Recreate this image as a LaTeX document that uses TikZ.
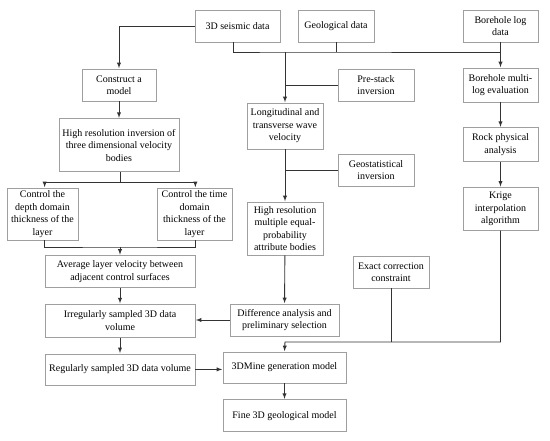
\documentclass[tikz,border=0pt]{standalone}
\usepackage{fontspec}
\setmainfont{Liberation Serif}
\usepackage{tikz}
\usetikzlibrary{arrows, positioning, calc}

\begin{document}
\begin{tikzpicture}[
                x=1pt, y=1pt,
                node distance = 16pt,
                box/.style = {rectangle, draw=gray!75, line width=0.7pt, align=center,
                              minimum height=32pt, inner sep=1pt,
                              font=\fontsize{10}{12.5}\selectfont},
                link/.style = {draw=black!80, line width=0.9pt},
                arrow/.style = {link, ->, >=latex, shorten >=0.5pt}
              ]
              \useasboundingbox (0,0) rectangle (550,-441);
              % Inputs
              \node[box, minimum width=85pt] (seis) at (237.5,-26) {3D seismic data};
              \node[box, minimum width=76pt] (geo) at (336,-26) {Geological data};
              \node[box, minimum width=75pt] (bore) at (500.5,-26) {Borehole log\\data};
              % Left column
              \node[box, minimum width=74pt] (cons) at (119,-85) {Construct a\\model};
              \node[box, minimum width=120pt, minimum height=53pt, below=17pt of cons] (hrinv)
                   {High resolution inversion of\\three dimensional velocity\\bodies};
              \node[box, minimum width=71pt, minimum height=52pt] (depth) at (42.5,-214)
                   {Control the\\depth domain\\thickness of the\\layer};
              \node[box, minimum width=75pt, minimum height=52pt] (time) at (194.5,-214)
                   {Control the time\\domain\\thickness of the\\layer};
              \node[box, minimum width=150pt] (avg) at (120,-271.5)
                   {Average layer velocity between\\adjacent control surfaces};
              \node[box, minimum width=150pt, minimum height=33pt, below=of avg] (irr)
                   {Irregularly sampled 3D data\\volume};
              \node[box, minimum width=150pt, minimum height=31pt, below=of irr] (reg)
                   {Regularly sampled 3D data volume};
              % Middle column
              \node[box, minimum width=76pt, minimum height=46pt] (longi) at (285,-126)
                   {Longitudinal and\\transverse wave\\velocity};
              \node[box, minimum width=76pt] (prestack) at (376,-85) {Pre-stack\\inversion};
              \node[box, minimum width=76pt] (geost) at (376,-170) {Geostatistical\\inversion};
              \node[box, minimum width=76pt, minimum height=53pt] (hrattr) at (285,-228.5)
                   {High resolution\\multiple equal-\\probability\\attribute bodies};
              \node[box, minimum width=109pt] (diff) at (284.5,-320)
                   {Difference analysis and\\preliminary selection};
              \node[box, minimum width=123pt, minimum height=31pt] (mine) at (284.5,-367.5)
                   {3DMine generation model};
              \node[box, minimum width=123pt, below=of mine] (fine) {Fine 3D geological model};
              \node[box, minimum width=76pt] (exact) at (391,-272) {Exact correction\\constraint};
              % Right column
              \node[box, minimum width=75pt, minimum height=34pt] (multi) at (500.5,-85)
                   {Borehole multi-\\log evaluation};
              \node[box, minimum width=75pt, minimum height=34pt, below=25pt of multi] (rock)
                   {Rock physical\\analysis};
              \node[box, minimum width=75pt, minimum height=43pt, below=25pt of rock] (krige)
                   {Krige\\interpolation\\algorithm};
              % Junctions
              \coordinate (bus) at (285,-52);
              \coordinate (jbot) at (285,-342);
              \coordinate (split) at (120,-182);
              \coordinate (merge) at (120,-247);
              % Connections
              \draw[arrow] (seis.west) -| (cons.north);
              \draw[link] (seis.south -| 233,0) |- (bus) -| (bore.south);
              \draw[link] (geo.south) -- (geo.south |- bus);
              \draw[arrow] (bore.south) -- (multi.north);
              \draw[arrow] (multi) -- (rock);
              \draw[arrow] (rock) -- (krige);
              \draw[arrow] (bus) -- (longi.north);
              \draw[link] (prestack.west) -- (prestack.west -| bus);
              \draw[arrow] (longi) -- (hrattr);
              \draw[link] (geost.west) -- (geost.west -| bus);
              \draw[arrow] (hrattr) -- (diff);
              \draw[arrow] (diff.west) -- (diff.west -| irr.east);
              \draw[arrow] (krige.south) |- (jbot) -- (mine.north);
              \draw[link] (exact.south) -- (exact.south |- jbot);
              \draw[arrow] (mine) -- (fine);
              \draw[arrow] (cons) -- (hrinv);
              \draw[link] (hrinv.south -| split) -- (split);
              \draw[arrow] (split) -| (avg.west |- depth.north);
              \draw[arrow] (split) -| (avg.east |- time.north);
              \draw[link] (avg.west |- depth.south) |- (merge) -| (avg.east |- time.south);
              \draw[arrow] (merge) -- (avg.north);
              \draw[arrow] (avg) -- (irr);
              \draw[arrow] (irr) -- (reg);
              \draw[arrow] (reg.east) -- (reg.east -| mine.west);
            \end{tikzpicture}
\end{document}
